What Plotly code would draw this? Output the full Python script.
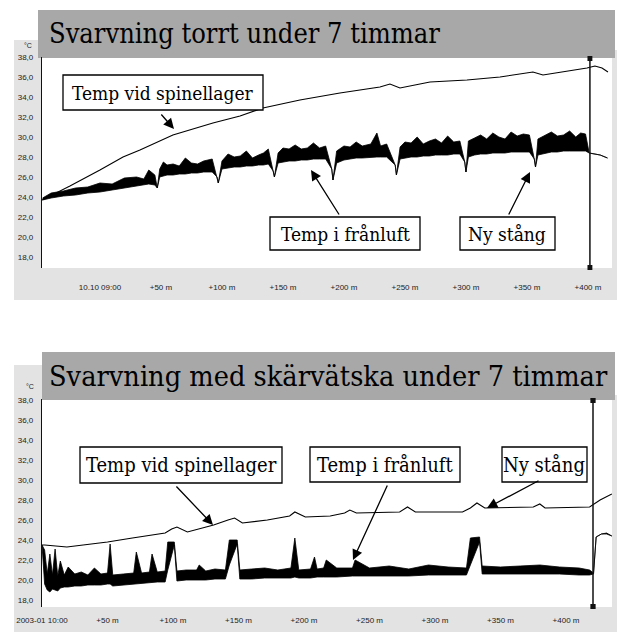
import plotly.graph_objects as go

W, H = 617, 632

# ---------------- DATA ----------------
# Chart 1: "Svarvning torrt under 7 timmar" (time in minutes, temp in °C)
c1_spin_t = [-47.5, -24.6, 0, 18.9, 32.8, 59.8, 92.6, 114.8, 133.6, 163.9, 196.7, 229.5, 237.7,
             245.9, 270.5, 300.8, 327.9, 354.9, 363.1, 385.2, 399.2, 405.7, 411.5, 416.4]
c1_spin_v = [23.7, 25.1, 26.7, 28.0, 28.7, 30.2, 31.4, 32.1, 32.9, 33.7, 34.4, 35.0, 35.3,
             34.9, 35.5, 35.7, 36.0, 36.5, 36.2, 36.6, 36.9, 37.1, 36.9, 36.5]

c1_fran_t = [-47, -40, -30, -20, -10, 0, 10, 20, 30, 36, 40, 45, 47,
             49, 52, 55, 60, 65, 70, 75, 80, 85, 92, 96, 97,
             100, 105, 110, 115, 120, 125, 130, 134, 138, 142, 143,
             146, 150, 155, 160, 165, 170, 175, 180, 185, 190, 191,
             194, 200, 205, 210, 215, 222, 227, 230, 235, 242, 243,
             246, 250, 255, 260, 265, 270, 275, 280, 285, 290, 295, 299, 300,
             302, 307, 312, 317, 322, 327, 332, 337, 342, 347, 352, 356, 357,
             359, 365, 370, 375, 380, 385, 390, 394, 398, 401, 405, 410, 416]
c1_fran_low = [23.7, 23.9, 24.1, 24.2, 24.4, 24.5, 24.7, 24.9, 25.1, 25.2, 25.3, 25.2, 24.9,
               26.0, 26.1, 26.2, 26.2, 26.3, 26.3, 26.4, 26.4, 26.5, 26.5, 26.0, 25.4,
               26.8, 26.9, 27.0, 27.0, 27.1, 27.1, 27.2, 27.2, 27.3, 26.6, 26.0,
               27.4, 27.5, 27.6, 27.6, 27.7, 27.7, 27.8, 27.8, 27.8, 26.8, 25.7,
               27.4, 27.7, 27.8, 27.9, 27.9, 28.0, 28.0, 28.0, 28.0, 27.2, 26.2,
               27.8, 27.9, 28.0, 28.0, 28.1, 28.1, 28.2, 28.2, 28.2, 28.3, 28.3, 27.5, 26.5,
               28.0, 28.2, 28.3, 28.3, 28.4, 28.4, 28.4, 28.5, 28.5, 28.5, 28.5, 27.8, 27.0,
               28.2, 28.4, 28.5, 28.5, 28.6, 28.6, 28.6, 28.6, 28.6, 28.4, 28.3, 28.2, 27.9]
c1_fran_high = [23.9, 24.4, 24.6, 24.9, 25.0, 25.4, 25.3, 25.9, 26.0, 25.8, 26.7, 26.2, 24.9,
                26.8, 27.5, 27.2, 27.3, 27.1, 27.9, 27.4, 27.3, 27.6, 27.8, 26.0, 25.4,
                27.6, 28.3, 28.0, 28.1, 28.6, 27.9, 28.2, 28.4, 28.8, 26.6, 26.0,
                28.4, 28.9, 28.8, 29.2, 28.8, 28.9, 29.4, 28.9, 29.1, 26.8, 25.7,
                28.6, 29.1, 29.0, 29.5, 29.1, 29.3, 30.4, 29.1, 29.3, 27.2, 26.2,
                29.0, 29.5, 29.4, 30.0, 29.3, 29.6, 29.8, 29.4, 30.1, 29.5, 29.6, 27.5, 26.5,
                29.6, 29.9, 30.2, 29.8, 30.4, 30.0, 29.8, 30.5, 30.1, 30.3, 30.2, 27.8, 27.0,
                29.8, 30.2, 30.5, 30.1, 30.2, 30.6, 30.0, 30.4, 30.3, 28.4, 28.3, 28.2, 27.9]
c1_cursor_t = 401.6

# Chart 2: "Svarvning med skärvätska under 7 timmar"
c2_spin_t = [0, 2, 19, 50, 69, 94, 99, 103, 111, 131, 142, 147, 153, 172, 189, 193, 201, 220,
             231, 235, 240, 273, 279, 285, 321, 327, 332, 338, 375, 380, 384, 418, 426, 435]
c2_spin_v = [23.5, 23.5, 23.3, 23.8, 24.2, 24.7, 25.1, 25.3, 24.8, 25.5, 26.0, 26.2, 25.7, 26.0, 26.4, 26.8, 26.3, 26.4,
             26.7, 27.0, 26.7, 26.8, 27.3, 26.8, 26.8, 27.2, 27.7, 27.2, 27.3, 27.6, 27.2, 27.3, 28.0, 28.6]

c2_fran_t = [0, 2, 4, 6, 8, 10, 12, 14, 17, 20, 25, 30, 35, 40, 45, 50, 52, 54, 62, 70, 72, 76, 82, 84, 88, 94,
             96, 101, 103, 110, 118, 120, 125, 132, 140, 143, 149, 151, 160, 170, 180, 190,
             193, 196, 205, 208, 210, 215, 217, 225, 237, 239, 250, 265, 280, 295, 310, 324,
             327, 334, 336, 350, 365, 380, 395, 410, 418, 421, 423, 427, 431, 435]
c2_fran_low = [23.5, 19.6, 19.0, 18.8, 19.1, 19.0, 18.9, 19.2, 19.3, 19.3, 19.4, 19.4, 19.5, 19.5, 19.5, 19.6, 19.6, 19.4,
               19.5, 19.6, 19.6, 19.6, 19.7, 19.7, 19.8, 19.8,
               21.0, 23.5, 19.9, 20.0, 20.0, 20.0, 20.0, 20.1, 20.1, 21.5, 23.6, 20.1, 20.1, 20.2, 20.2, 20.2,
               20.3, 20.2, 20.2, 20.3, 20.3, 20.3, 20.3, 20.3, 20.4, 20.4, 20.4, 20.4, 20.4, 20.5, 20.5, 20.5,
               21.5, 23.8, 20.6, 20.6, 20.6, 20.6, 20.6, 20.5, 20.5, 20.6, 24.3, 24.6, 24.6, 24.4]
c2_fran_high = [23.5, 23.0, 20.6, 22.6, 20.5, 23.1, 20.4, 21.9, 20.5, 21.3, 20.6, 20.8, 20.5, 21.2, 20.6, 20.7, 23.6, 20.5,
                20.6, 20.7, 22.8, 20.7, 20.8, 22.6, 20.8, 20.9,
                23.8, 23.8, 20.9, 21.0, 21.0, 21.5, 20.9, 21.1, 21.0, 24.0, 24.0, 21.0, 21.1, 21.2, 21.0, 21.2,
                24.2, 21.0, 21.1, 22.3, 21.1, 21.2, 22.0, 21.2, 21.2, 22.0, 21.2, 21.4, 21.1, 21.5, 21.3, 21.2,
                24.2, 24.3, 21.4, 21.3, 21.4, 21.5, 21.3, 21.2, 21.0, 20.7, 24.3, 24.6, 24.7, 24.4]
c2_cursor_t = 420.6

titles = ["Svarvning torrt under 7 timmar", "Svarvning med skärvätska under 7 timmar"]
label_spin = "Temp vid spinellager"
label_fran = "Temp i frånluft"
label_new = "Ny stång"

y_tickvals = [18, 20, 22, 24, 26, 28, 30, 32, 34, 36, 38]
y_ticktext = ["18,0", "20,0", "22,0", "24,0", "26,0", "28,0", "30,0", "32,0", "34,0", "36,0", "38,0"]
x_tickvals = [0, 50, 100, 150, 200, 250, 300, 350, 400]
c1_x_ticktext = ["10.10 09:00", "+50 m", "+100 m", "+150 m", "+200 m", "+250 m", "+300 m", "+350 m", "+400 m"]
c2_x_ticktext = ["2003-01 10:00", "+50 m", "+100 m", "+150 m", "+200 m", "+250 m", "+300 m", "+350 m", "+400 m"]


# ---------------- LAYOUT HELPERS ----------------
def px(x):
    return x / W


def py(y):
    return 1 - y / H


SERIF = "DejaVu Serif Condensed, DejaVu Serif"
SANS = "Liberation Sans"

fig = go.Figure()

# chart 1 traces
fig.add_trace(go.Scatter(x=c1_fran_t, y=c1_fran_low, mode="lines", line=dict(color="black", width=0.8),
                         xaxis="x", yaxis="y", showlegend=False, hoverinfo="skip"))
fig.add_trace(go.Scatter(x=c1_fran_t, y=c1_fran_high, mode="lines", line=dict(color="black", width=0.8),
                         fill="tonexty", fillcolor="black", xaxis="x", yaxis="y", showlegend=False))
fig.add_trace(go.Scatter(x=c1_spin_t, y=c1_spin_v, mode="lines", line=dict(color="black", width=1.1),
                         xaxis="x", yaxis="y", showlegend=False))
# chart 2 traces
fig.add_trace(go.Scatter(x=c2_fran_t, y=c2_fran_low, mode="lines", line=dict(color="black", width=0.8),
                         xaxis="x2", yaxis="y2", showlegend=False, hoverinfo="skip"))
fig.add_trace(go.Scatter(x=c2_fran_t, y=c2_fran_high, mode="lines", line=dict(color="black", width=0.8),
                         fill="tonexty", fillcolor="black", xaxis="x2", yaxis="y2", showlegend=False))
fig.add_trace(go.Scatter(x=c2_spin_t, y=c2_spin_v, mode="lines", line=dict(color="black", width=1.1),
                         xaxis="x2", yaxis="y2", showlegend=False))

common_y = dict(tickvals=y_tickvals, ticktext=y_ticktext, showgrid=False, zeroline=False,
                showline=True, linecolor="#111", linewidth=1.2, ticks="", automargin=False,
                tickfont=dict(family=SANS, size=8, color="#222"), ticklabelstandoff=6)
common_x = dict(tickvals=x_tickvals, showgrid=False, zeroline=False, showline=False, ticks="",
                automargin=False, tickfont=dict(family=SANS, size=8, color="#222"))

fig.update_layout(
    width=W, height=H, margin=dict(l=0, r=0, t=0, b=0, autoexpand=False),
    paper_bgcolor="white", plot_bgcolor="rgba(0,0,0,0)",
    xaxis=dict(domain=[px(42), px(612)], range=[-47.5, 419.7], anchor="y",
               ticktext=c1_x_ticktext, ticklabelstandoff=13, **common_x),
    yaxis=dict(domain=[py(268), py(57)], range=[16.9, 38.0], anchor="x", **common_y),
    xaxis2=dict(domain=[px(42), px(612)], range=[0, 435.1], anchor="y2",
                ticktext=c2_x_ticktext, ticklabelstandoff=7, **common_x),
    yaxis2=dict(domain=[py(607), py(399)], range=[17.3, 38.1], anchor="x2", **common_y),
)

shapes = []
LIGHT = "#e3e3e3"
BAR = "#a8a8a8"


def prect(x0, y0, x1, y1, fill, line=None, lw=0, layer="below"):
    shapes.append(dict(type="rect", xref="paper", yref="paper", x0=px(x0), x1=px(x1), y0=py(y1), y1=py(y0),
                       fillcolor=fill, line=dict(color=line or fill, width=lw), layer=layer))


# chart 1 surroundings
prect(14, 40, 42, 300, LIGHT)
prect(14, 268, 617, 300, LIGHT)
prect(612, 50, 617, 268, LIGHT)
prect(38, 10, 615, 58, BAR)
# chart 2 surroundings
prect(14, 365, 42, 632, LIGHT)
prect(14, 607, 617, 632, LIGHT)
prect(612, 395, 617, 607, LIGHT)
prect(42, 352, 615, 400, BAR)

# label boxes
boxes = [
    (63, 75, 263, 110), (270, 217, 420, 250), (460, 217, 555, 250),
    (80, 447, 282, 483), (310, 447, 460, 482), (502, 447, 587, 482),
]
for b in boxes:
    prect(*b, fill="white", line="black", lw=1.3, layer="above")

# cursors
for xa, ya, ct, ytop, ybot in [("x", "y", c1_cursor_t, 58, 268), ("x2", "y2", c2_cursor_t, 400, 607)]:
    shapes.append(dict(type="line", xref=xa, yref="paper", x0=ct, x1=ct, y0=py(ybot), y1=py(ytop),
                       line=dict(color="#111", width=1.5), layer="above"))
    shapes.append(dict(type="rect", xref=xa, yref="paper", x0=ct - 2, x1=ct + 2, y0=py(ytop + 3), y1=py(ytop - 2),
                       fillcolor="#111", line=dict(width=0), layer="above"))
    shapes.append(dict(type="rect", xref=xa, yref="paper", x0=ct - 2, x1=ct + 2, y0=py(ybot + 2), y1=py(ybot - 3),
                       fillcolor="#111", line=dict(width=0), layer="above"))

fig.update_layout(shapes=shapes)

ann = []


def ptext(x, y, text, size, family=SERIF, xanchor="center", color="black"):
    ann.append(dict(xref="paper", yref="paper", x=px(x), y=py(y), text=text, showarrow=False,
                    xanchor=xanchor, yanchor="middle", font=dict(family=family, size=size, color=color)))


def parrow(x_tail, y_tail, x_head, y_head):
    ann.append(dict(xref="paper", yref="paper", axref="pixel", ayref="pixel",
                    x=px(x_head), y=py(y_head), ax=x_tail - x_head, ay=y_tail - y_head, text="",
                    showarrow=True, arrowhead=2, arrowsize=1.6, arrowwidth=1.3, arrowcolor="black"))


ptext(47, 34, titles[0], 27, xanchor="left")
ptext(47, 376, titles[1], 28.6, xanchor="left")

ptext(163, 93, label_spin, 19)
ptext(345, 234, label_fran, 19)
ptext(507, 234, label_new, 19)
ptext(181, 465, label_spin, 20)
ptext(385, 465, label_fran, 20)
ptext(544, 465, label_new, 20)

parrow(160, 113, 174, 129)
parrow(340, 216, 311, 170)
parrow(508, 216, 530, 172)
parrow(175, 485, 213, 525)
parrow(388, 484, 353, 560)
parrow(540, 480, 487, 508)

ptext(28, 45, "°C", 7, family=SANS, color="#222")
ptext(30, 386, "°C", 7, family=SANS, color="#222")

fig.update_layout(annotations=ann)

fig.write_html("out.html")
